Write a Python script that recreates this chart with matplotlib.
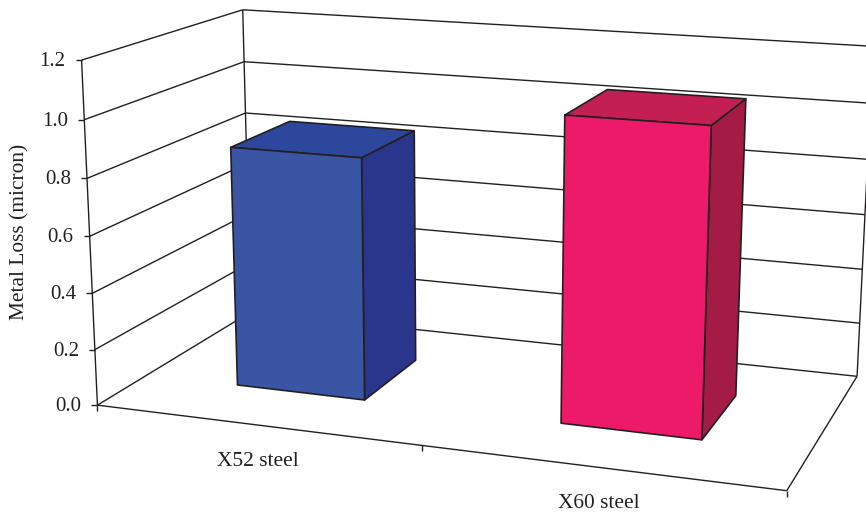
#!/usr/bin/env python3
"""Metal loss of X52 and X60 steel, drawn as a 3D bar chart on a perspective box."""
import numpy as np
import matplotlib
matplotlib.use('Agg')
import matplotlib.pyplot as plt
from matplotlib.patches import Polygon

categories = ['X52 steel', 'X60 steel']
metal_loss = [0.86, 1.056]
y_ticks = [0.0, 0.2, 0.4, 0.6, 0.8, 1.0, 1.2]
y_tick_labels = ['0.0', '0.2', '0.4', '0.6', '0.8', '1.0', '1.2']

LINE = '#231F20'
# front, top and side face of each bar
FACES = [('#3A55A4', '#2C479C', '#2A368C'),
         ('#ED1A69', '#C41F52', '#A41C45')]

W, H = 866, 512
plt.rcParams['font.family'] = ['Liberation Serif', 'DejaVu Serif']

fig = plt.figure(figsize=(W / 100, H / 100), dpi=100)
ax = fig.add_axes([0, 0, 1, 1])
ax.set_xlim(0, W)
ax.set_ylim(H, 0)
ax.axis('off')

# camera: (category, depth, value) -> figure pixels, solved from the box corners
box_pts = np.array([(0, 0, 0), (0, 0, 1.2), (0, 1, 1.2), (0, 1, 0), (2, 0, 0),
                    (2, 1, 0), (2, 1, 1.2), (0, 0, 1.0), (0, 1, 1.0), (0, 1, 0.8)], float)
box_px = np.array([(98, 405), (81.3, 60.7), (243, 8.7), (250, 312), (786.7, 491),
                   (857.3, 376), (873, 46.4), (84, 119), (244.3, 62.7), (245.7, 113.3)])
rows = []
for (x, y, z), (u, v) in zip(box_pts, box_px):
    rows.append([x, y, z, 1, 0, 0, 0, 0, -u * x, -u * y, -u * z, -u])
    rows.append([0, 0, 0, 0, x, y, z, 1, -v * x, -v * y, -v * z, -v])
CAM = np.linalg.svd(np.array(rows))[2][-1].reshape(3, 4)


def proj(x, y, z):
    h = CAM @ np.array([x, y, z, 1.0])
    return h[:2] / h[2]


def line(p, q, lw=1.0):
    ax.plot([p[0], q[0]], [p[1], q[1]], color=LINE, lw=lw, solid_capstyle='butt', zorder=1)


# gridlines across the left and back walls
for z in y_ticks:
    line(proj(0, 0, z), proj(0, 1, z))
    line(proj(0, 1, z), proj(2, 1, z))

top = y_ticks[-1]
line(proj(0, 0, 0), proj(0, 0, top))
line(proj(0, 1, 0), proj(0, 1, top))
line(proj(2, 1, 0), proj(2, 1, top))
line(proj(0, 0, 0), proj(2, 0, 0))
line(proj(2, 0, 0), proj(2, 1, 0))

# value ticks and labels
for z, lab in zip(y_ticks, y_tick_labels):
    p = proj(0, 0, z)
    line(p, p + (-6, 0))
    ax.text(p[0] - 16, p[1] - 1, lab, ha='right', va='center_baseline', fontsize=15, color=LINE)

# category ticks under the front edge
for x in [0, 0.995, 2]:
    p = proj(x, 0, 0)
    line(p, p + (0, 6))

ax.text(20, 232, 'Metal Loss (micron)', rotation=90, ha='center', va='center',
        fontsize=15.4, color=LINE)
ax.text(258, 461, categories[0], ha='center', va='center', fontsize=15.4, color=LINE)
ax.text(599, 503, categories[1], ha='center', va='center', fontsize=15.4, color=LINE)

# bars sit in the middle of each category slot
for i, (val, cols) in enumerate(zip(metal_loss, FACES)):
    x0, x1 = i + 0.295, i + 0.70
    y0, y1 = 0.3, 0.7
    faces = [
        (cols[2], [(x1, y0, 0), (x1, y1, 0), (x1, y1, val), (x1, y0, val)]),
        (cols[1], [(x0, y0, val), (x1, y0, val), (x1, y1, val), (x0, y1, val)]),
        (cols[0], [(x0, y0, 0), (x1, y0, 0), (x1, y0, val), (x0, y0, val)]),
    ]
    for color, corners in faces:
        ax.add_patch(Polygon([proj(*c) for c in corners], closed=True, facecolor=color,
                             edgecolor=LINE, lw=1.2, joinstyle='round', zorder=3))

fig.savefig('out.png', dpi=100, facecolor='white')
